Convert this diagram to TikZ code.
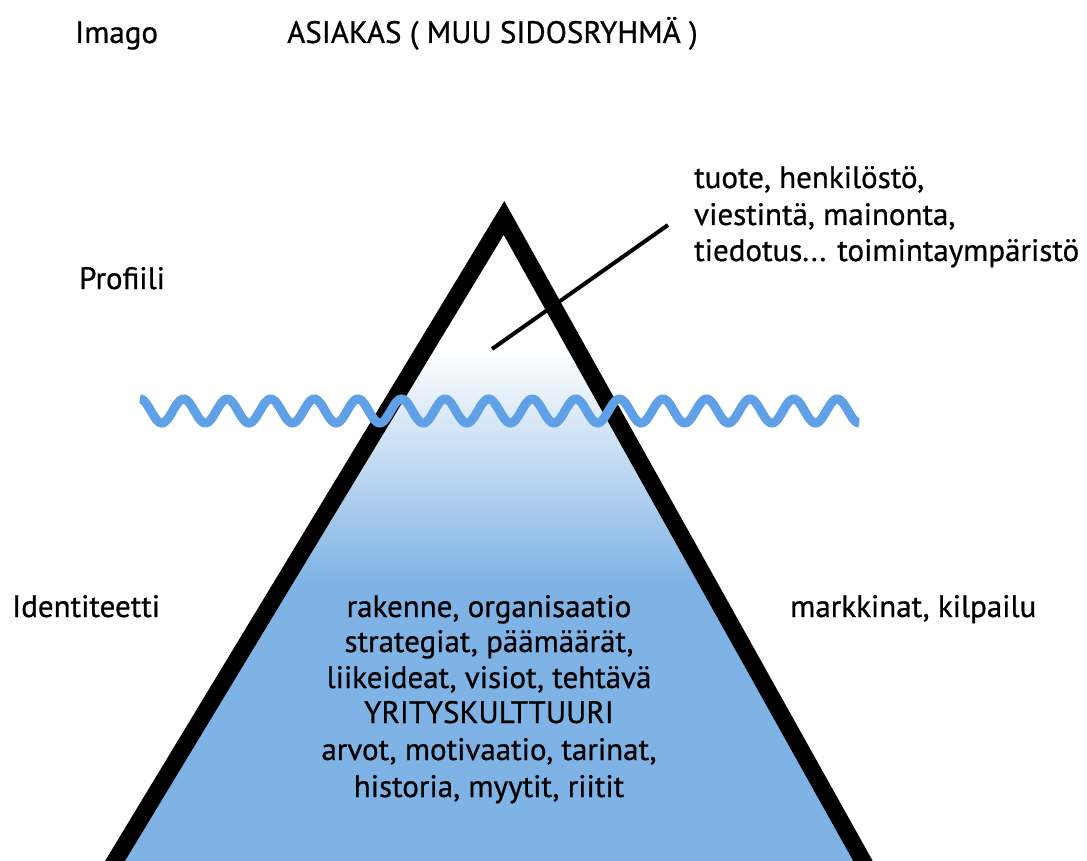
\documentclass[tikz,border=0pt]{standalone}
\usepackage{fontspec}
\setmainfont{PT Sans}
\newfontfamily\lblfont{PT Sans}[FakeBold=0.7]
\definecolor{iceblue}{RGB}{128,179,229}
\definecolor{wavecol}{RGB}{95,160,230}
\begin{document}
\begin{tikzpicture}[x=1pt,y=-1pt,
  lbl/.style={font=\lblfont\fontsize{31}{36}\selectfont, inner sep=0pt, anchor=base west},
  clbl/.style={font=\lblfont\fontsize{31}{36}\selectfont, inner sep=0pt, anchor=base},
  edge/.style={line width=17pt, line join=miter, miter limit=10},
  wavestyle/.style={draw=wavecol, line width=9pt},
  pointer/.style={line width=4pt}]
\useasboundingbox (0,0) rectangle (1087,861);
\fill[white] (0,0) rectangle (1087,861);
% fill of the iceberg
\begin{scope}
  \clip (0,0) rectangle (1087,861);
  \clip (504,218) -- (884.8,900) -- (91.4,900) -- cycle;
  \fill[white] (0,200) rectangle (1087,352);
  \shade[top color=white,bottom color=iceblue] (0,350) rectangle (1087,582);
  \fill[iceblue] (0,580) rectangle (1087,900);
\end{scope}
% outline
\begin{scope}
  \clip (0,0) rectangle (1087,861);
  \coordinate (bl) at (91.4,900);
  \coordinate (apex) at (504,218);
  \coordinate (br) at (884.8,900);
  \draw[edge] (bl) -- (apex) -- (br);
\end{scope}
% pointer line
\coordinate (ptA) at (492,349);
\coordinate (ptB) at (668,225);
\draw[pointer] (ptA) -- (ptB);
% water line
\draw[wavestyle] plot[domain=0:5940, samples=700] ({140+\x/360*43.58},{411-12*cos(\x)});
% labels
\node[lbl] (imago) at (75,43) {Imago};
\node[lbl] (asiakas) at (287,43) {ASIAKAS ( MUU SIDOSRYHMÄ )};
\node[lbl] (profiili) at (79,289) {Profiili};
\node[lbl] (t1) at (694,188) {tuote, henkilöstö,};
\node[lbl] (t2) at (694,225) {viestintä, mainonta,};
\node[lbl] (t3) at (694,261) {tiedotus... toimintaympäristö};
\node[lbl] (ident) at (12,617) {Identiteetti};
\node[lbl] (markk) at (790,617) {markkinat, kilpailu};
\node[clbl] (m1) at (489,617) {rakenne, organisaatio};
\node[clbl] (m2) at (489,652) {strategiat, päämäärät,};
\node[clbl] (m3) at (489,688) {liikeideat, visiot, tehtävä};
\node[clbl] (m4) at (489,723) {YRITYSKULTTUURI};
\node[clbl] (m5) at (489,760) {arvot, motivaatio, tarinat,};
\node[clbl] (m6) at (489,797) {historia, myytit, riitit};
\end{tikzpicture}
\end{document}
